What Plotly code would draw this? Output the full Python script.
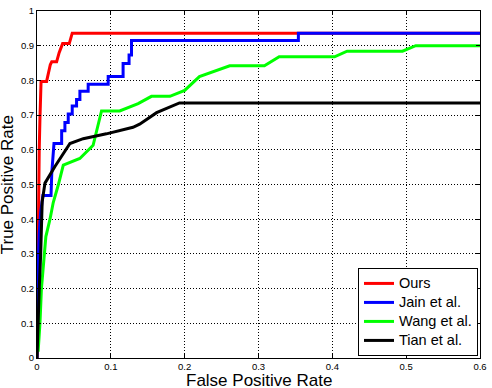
import plotly.graph_objects as go

# ---- data ----
ours_x = [0, 0.001, 0.002, 0.003, 0.004, 0.0055, 0.013, 0.015, 0.018, 0.020, 0.0266, 0.030, 0.0347, 0.0437, 0.046, 0.0477, 0.6]
ours_y = [0, 0.30, 0.50, 0.60, 0.69, 0.797, 0.797, 0.82, 0.845, 0.854, 0.854, 0.88, 0.906, 0.906, 0.925, 0.936, 0.936]

jain_x = [0, 0.0005, 0.001, 0.003, 0.005, 0.008, 0.0176, 0.019, 0.020, 0.023, 0.0334, 0.0334, 0.0378, 0.0378,
          0.0423, 0.0423, 0.0477, 0.0477, 0.0536, 0.0536, 0.0581, 0.0581, 0.0693, 0.0693, 0.0964, 0.0964,
          0.1166, 0.1166, 0.1247, 0.1247, 0.128, 0.128, 0.354, 0.354, 0.6]
jain_y = [0, 0.13, 0.24, 0.36, 0.42, 0.468, 0.468, 0.468, 0.533, 0.618, 0.618, 0.655, 0.655, 0.679,
          0.679, 0.703, 0.703, 0.726, 0.726, 0.745, 0.745, 0.769, 0.769, 0.789, 0.789, 0.811,
          0.811, 0.849, 0.849, 0.873, 0.873, 0.915, 0.915, 0.936, 0.936]

wang_x = [0.0015, 0.004, 0.006, 0.010, 0.012, 0.0176, 0.022, 0.029, 0.0356, 0.058, 0.076, 0.0874, 0.112, 0.137,
          0.155, 0.180, 0.200, 0.220, 0.261, 0.308, 0.328, 0.403, 0.420, 0.495, 0.513, 0.6]
wang_y = [0.018, 0.10, 0.20, 0.30, 0.35, 0.40, 0.448, 0.50, 0.556, 0.575, 0.613, 0.712, 0.712, 0.733,
          0.754, 0.754, 0.771, 0.811, 0.842, 0.842, 0.868, 0.868, 0.884, 0.884, 0.900, 0.900]

tian_x = [0, 0.001, 0.003, 0.005, 0.006, 0.007, 0.0108, 0.0243, 0.0446, 0.0626, 0.094, 0.130, 0.139, 0.162, 0.193, 0.6]
tian_y = [0, 0.10, 0.20, 0.30, 0.40, 0.45, 0.504, 0.552, 0.618, 0.632, 0.646, 0.665, 0.674, 0.707, 0.735, 0.735]

series_names = ["Ours", "Jain et al.", "Wang et al.", "Tian et al."]
series_x = [ours_x, jain_x, wang_x, tian_x]
series_y = [ours_y, jain_y, wang_y, tian_y]
series_colors = ["#ff0000", "#0000ff", "#00ff00", "#000000"]

x_ticks = [0, 0.1, 0.2, 0.3, 0.4, 0.5, 0.6]
y_ticks = [0, 0.1, 0.2, 0.3, 0.4, 0.5, 0.6, 0.7, 0.8, 0.9, 1]

FONT = "Liberation Sans, Arial, Helvetica, sans-serif"

fig = go.Figure()
for name, xs, ys, col in zip(series_names, series_x, series_y, series_colors):
    fig.add_trace(go.Scatter(
        x=xs, y=ys, mode="lines",
        name="<span style='font-size:14.5px'>%s</span>" % name,
        hovertemplate=name + "<br>FPR %{x}<br>TPR %{y}<extra></extra>",
        line=dict(color=col, width=3)))

axis_common = dict(
    showline=True, linecolor="black", linewidth=1, mirror="ticks",
    ticks="inside", ticklen=4, tickcolor="black",
    showgrid=True, gridcolor="black", gridwidth=1, griddash="1px,2px",
    zeroline=False, ticklabeloverflow="allow",
    tickfont=dict(family=FONT, size=9.5, color="black"),
)

fig.update_xaxes(range=[0, 0.6], tickvals=x_ticks,
                 ticktext=[("%g" % v) for v in x_ticks], **axis_common)
fig.update_yaxes(range=[0, 1], tickvals=y_ticks,
                 ticktext=[("%g" % v) for v in y_ticks], **axis_common)

fig.update_layout(
    width=492, height=388,
    margin=dict(l=37, r=11, t=5, b=30),
    paper_bgcolor="white", plot_bgcolor="white",
    font=dict(family=FONT, color="black"),
    showlegend=True,
    legend=dict(x=0.9955, y=0.006, xanchor="right", yanchor="bottom",
                bgcolor="white", bordercolor="black", borderwidth=1,
                font=dict(family=FONT, size=11.5, color="black"),
                tracegroupgap=0),
    annotations=[
        dict(text="False Positive Rate", xref="paper", yref="paper", x=0.5, y=-0.064,
             xanchor="center", yanchor="middle", showarrow=False,
             font=dict(family=FONT, size=17, color="black")),
        dict(text="True Positive Rate", xref="paper", yref="paper", x=-0.066, y=0.5,
             xanchor="center", yanchor="middle", textangle=-90, showarrow=False,
             font=dict(family=FONT, size=17, color="black")),
    ],
)

fig.write_html("out.html", config={"displayModeBar": False},
               post_script="document.body.style.margin='0';document.body.style.overflow='hidden';")
